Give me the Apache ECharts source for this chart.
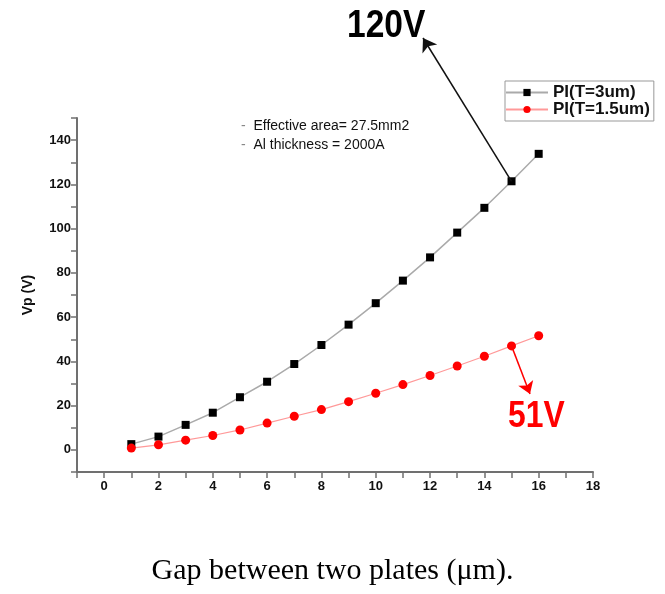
<!DOCTYPE html>
<html>
<head>
<meta charset="utf-8">
<script src="https://cdn.jsdelivr.net/npm/echarts@6/dist/echarts.min.js"></script>
<style>
  html, body { margin: 0; padding: 0; background: #fff; }
  #chart { width: 665px; height: 594px; }
</style>
</head>
<body>
<div id="chart"></div>
<script>
// gap (um) and pull-in voltage (V)
const gaps = [1, 2, 3, 4, 5, 6, 7, 8, 9, 10, 11, 12, 13, 14, 15, 16];
const vpThick = [2.6, 6.0, 11.3, 16.8, 23.8, 30.8, 38.8, 47.4, 56.6, 66.3, 76.5, 87.0, 98.2, 109.4, 121.4, 133.8];
const vpThin = [0.8, 2.3, 4.4, 6.5, 9.0, 12.1, 15.2, 18.2, 21.8, 25.6, 29.5, 33.6, 37.9, 42.3, 47.0, 51.6];
const seriesNames = ['PI(T=3um)', 'PI(T=1.5um)'];
const notes = ['Effective area= 27.5mm2', 'Al thickness = 2000A'];

const axisColor = '#707070';
const labelFont = { color: '#111', fontSize: 13, fontWeight: 'bold', fontFamily: 'Liberation Sans, Arial, sans-serif' };

let myChart = echarts.init(document.getElementById('chart'));

myChart.setOption({
  animation: false,
  title: {
    text: 'Gap between two plates (\u03bcm).',
    left: 'center',
    top: 551,
    textStyle: { fontFamily: 'Liberation Serif, Times New Roman, serif', fontSize: 30, fontWeight: 'normal', color: '#000' }
  },
  grid: { left: 77, right: 72, top: 118, bottom: 122 },
  legend: {
    orient: 'vertical',
    left: 505,
    top: 81,
    padding: [3, 4, 3, 0],
    itemGap: 0,
    itemWidth: 42,
    itemHeight: 9,
    borderColor: '#999',
    borderWidth: 1,
    textStyle: { fontSize: 17, lineHeight: 17, fontWeight: 'bold', color: '#111', fontFamily: 'Liberation Sans, Arial, sans-serif' },
    data: seriesNames
  },
  xAxis: {
    type: 'value',
    min: -1,
    max: 18,
    interval: 1,
    splitLine: { show: false },
    axisLine: { onZero: false, lineStyle: { color: axisColor, width: 2 } },
    axisTick: { length: 6, lineStyle: { color: axisColor, width: 1.5 } },
    axisLabel: Object.assign({ margin: 8, formatter: v => (v >= 0 && v % 2 === 0) ? String(v) : '' }, labelFont)
  },
  yAxis: {
    type: 'value',
    min: -10,
    max: 150,
    interval: 10,
    name: 'Vp (V)',
    nameLocation: 'middle',
    nameGap: 42,
    nameTextStyle: { fontSize: 14, fontWeight: 'bold', color: '#111', fontFamily: 'Liberation Sans, Arial, sans-serif' },
    splitLine: { show: false },
    axisLine: { onZero: false, lineStyle: { color: axisColor, width: 2 } },
    axisTick: { length: 6, lineStyle: { color: axisColor, width: 1.5 } },
    axisLabel: Object.assign({ margin: 6, formatter: v => (v >= 0 && v % 20 === 0) ? String(v) : '' }, labelFont)
  },
  series: [
    {
      name: seriesNames[0],
      type: 'line',
      data: gaps.map((g, i) => [g, vpThick[i]]),
      symbol: 'rect',
      symbolSize: 8,
      itemStyle: { color: '#000' },
      lineStyle: { color: '#aaa', width: 1.5 },
      markLine: {
        silent: true,
        symbol: ['none', 'arrow'],
        symbolSize: 13,
        label: { show: false },
        lineStyle: { color: '#111', width: 1.5, type: 'solid' },
        data: [[{ coord: [gaps[14], vpThick[14]] }, { x: 423, y: 38 }]]
      }
    },
    {
      name: seriesNames[1],
      type: 'line',
      data: gaps.map((g, i) => [g, vpThin[i]]),
      symbol: 'circle',
      symbolSize: 9,
      itemStyle: { color: '#f00' },
      lineStyle: { color: '#f99', width: 1.2 },
      markLine: {
        silent: true,
        symbol: ['none', 'arrow'],
        symbolSize: 12,
        label: { show: false },
        lineStyle: { color: '#f00', width: 1.5, type: 'solid' },
        data: [[{ coord: [gaps[14], vpThin[14]] }, { x: 530, y: 394 }]]
      }
    }
  ],
  graphic: [
    {
      type: 'text', x: 347, y: 7, scaleX: 0.86,
      style: { text: '120V', fill: '#000', font: 'bold 39px "Liberation Sans", Arial, sans-serif' }
    },
    {
      type: 'text', x: 508, y: 398, scaleX: 0.86,
      style: { text: '51V', fill: '#f00', font: 'bold 37px "Liberation Sans", Arial, sans-serif' }
    },
    {
      type: 'text', left: 241, top: 119,
      style: {
        text: '{d|-}  ' + notes[0],
        fill: '#111', font: '14px "Liberation Sans", Arial, sans-serif',
        rich: { d: { fill: '#888', fontSize: 14 } }
      }
    },
    {
      type: 'text', left: 241, top: 138,
      style: {
        text: '{d|-}  ' + notes[1],
        fill: '#111', font: '14px "Liberation Sans", Arial, sans-serif',
        rich: { d: { fill: '#888', fontSize: 14 } }
      }
    }
  ]
});
</script>
</body>
</html>
